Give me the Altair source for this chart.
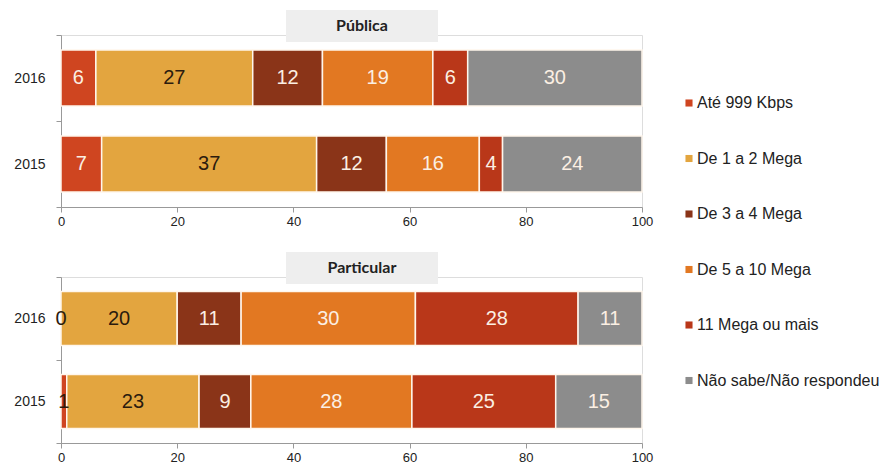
import altair as alt
import pandas as pd

categories = ["Até 999 Kbps", "De 1 a 2 Mega", "De 3 a 4 Mega",
              "De 5 a 10 Mega", "11 Mega ou mais", "Não sabe/Não respondeu"]
colors = ["#CF4520", "#E3A53F", "#8A3418", "#E27822", "#B93719", "#8C8C8C"]
years = ["2016", "2015"]
publica_2016 = [6, 27, 12, 19, 6, 30]
publica_2015 = [7, 37, 12, 16, 4, 24]
particular_2016 = [0, 20, 11, 30, 28, 11]
particular_2015 = [1, 23, 9, 28, 25, 15]
x_ticks = [0, 20, 40, 60, 80, 100]
panel_titles = ["Pública", "Particular"]

FONT = "Liberation Sans"


def make_df(v16, v15):
    rows = []
    for yr, vals in zip(years, [v16, v15]):
        for i, (c, v) in enumerate(zip(categories, vals)):
            rows.append({"year": yr, "cat": c, "order": i, "value": v})
    return pd.DataFrame(rows)


def panel(df, title, height):
    base = alt.Chart(df).transform_stack(
        stack="value", groupby=["year"], as_=["s0", "s1"],
        sort=[alt.SortField("order")], offset="normalize"
    ).transform_calculate(
        x0="datum.s0*100", x1="datum.s1*100", xm="(datum.s0+datum.s1)*50",
        dark="datum.cat == 'De 1 a 2 Mega' || datum.value < 2"
    )
    y = alt.Y("year:N", sort=years, title=None,
              scale=alt.Scale(paddingInner=0, paddingOuter=0),
              axis=alt.Axis(tickBand="extent", tickSize=5, domainColor="#999999",
                            tickColor="#999999", labelFontSize=14, labelColor="#222222",
                            labelFont=FONT, labelPadding=11))
    x = alt.X("x0:Q", title=None,
              scale=alt.Scale(domain=[0, 100], nice=False),
              axis=alt.Axis(values=x_ticks, grid=False, tickSize=5, domainColor="#999999",
                            tickColor="#999999", labelFontSize=13, labelColor="#222222",
                            labelFont=FONT, labelPadding=3, labelFlush=False))
    bars = base.mark_bar(height=alt.RelativeBandSize(0.65), stroke="#FFF6EC",
                         strokeWidth=1.5).encode(
        x=x, x2="x1:Q", y=y,
        color=alt.Color("cat:N", sort=categories,
                        scale=alt.Scale(domain=categories, range=colors),
                        legend=alt.Legend(title=None, orient="none", legendX=620,
                                          legendY=60, symbolType="square",
                                          symbolSize=50, labelFontSize=16,
                                          labelFont=FONT, labelColor="#222222",
                                          rowPadding=39.5, symbolStrokeWidth=0,
                                          labelOffset=0, labelLimit=400)),
        order=alt.Order("order:Q")
    )
    labels = base.mark_text(fontSize=20, font=FONT).encode(
        x=alt.X("xm:Q"), y=y, text=alt.Text("value:Q"),
        color=alt.condition("datum.dark", alt.value("#2B1B0E"), alt.value("#FBEFE3"))
    )
    tdf = pd.DataFrame({"t": [title]})
    box = alt.Chart(tdf).mark_rect(color="#EEEEEE").encode(
        x=alt.value(225), x2=alt.value(377), y=alt.value(-25), y2=alt.value(7))
    ttext = alt.Chart(tdf).mark_text(fontSize=16, fontWeight="bold", font="Lato",
                                     color="#222222").encode(
        x=alt.value(301), y=alt.value(-9), text="t:N")
    return alt.layer(box, ttext, bars, labels).properties(width=581, height=height)


top = panel(make_df(publica_2016, publica_2015), panel_titles[0], 172)
bottom = panel(make_df(particular_2016, particular_2015), panel_titles[1], 166)

chart = alt.vconcat(top, bottom, spacing=22).properties(
    padding={"left": 13, "top": 9, "right": 0, "bottom": 0}
).configure_view(stroke=None).configure(background="white")

chart.save("out.html", embed_options={"renderer": "svg", "actions": False})
